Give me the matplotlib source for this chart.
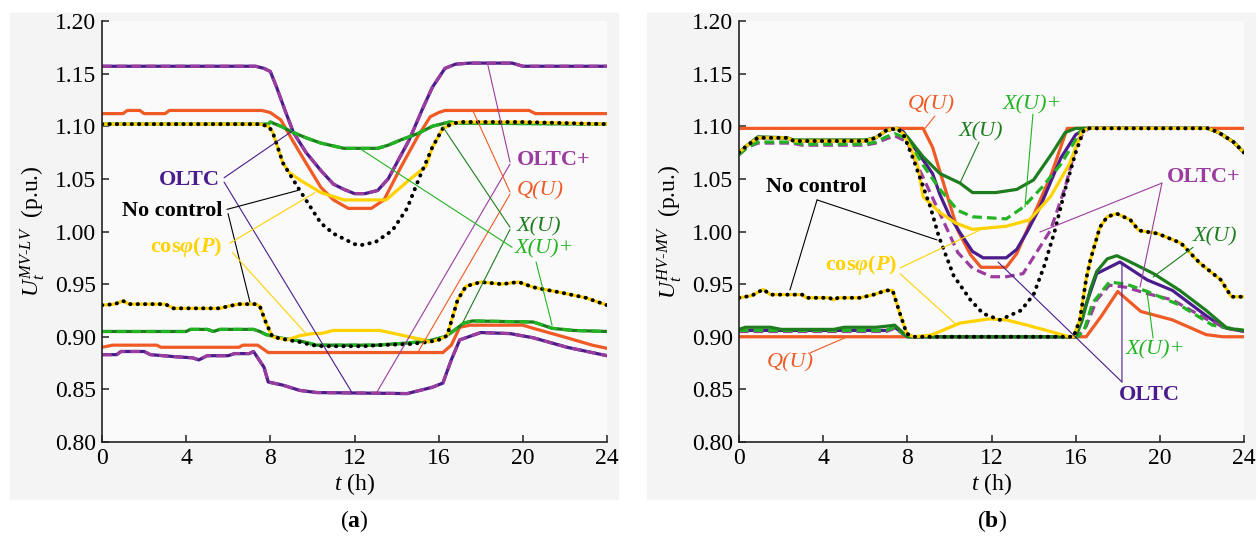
import matplotlib
matplotlib.use("Agg")
import matplotlib.pyplot as plt
from matplotlib.patches import Rectangle

plt.rcParams['font.family'] = ['Liberation Serif', 'DejaVu Serif']
plt.rcParams['mathtext.fontset'] = 'custom'
plt.rcParams['mathtext.rm'] = 'Liberation Serif'
plt.rcParams['mathtext.it'] = 'Liberation Serif:italic'
plt.rcParams['mathtext.bf'] = 'Liberation Serif:bold'
plt.rcParams['mathtext.bfit'] = 'Liberation Serif:italic:bold'

# ---------------- (a) MV-LV ----------------
a_nc_up_t = [0, 7.5, 7.9, 8.1, 8.6, 9.4, 10.4, 11.0, 12.0, 12.3, 13.0, 13.8, 14.5, 15.1, 15.7, 16.2, 16.6, 17.0, 20.0, 24]
a_nc_up_v = [1.102, 1.102, 1.100, 1.095, 1.065, 1.039, 1.008, 0.998, 0.988, 0.987, 0.990, 1.001, 1.022, 1.052,
             1.080, 1.098, 1.102, 1.104, 1.104, 1.102]
a_cos_up_t = [0, 7.5, 7.9, 8.1, 8.6, 8.9, 9.4, 10.4, 11.5, 13.5, 14.6, 15.4, 15.7, 16.2, 16.6, 17.0, 20.0, 24]
a_cos_up_v = [1.102, 1.102, 1.100, 1.095, 1.065, 1.056, 1.049, 1.037, 1.030, 1.030, 1.049, 1.062, 1.080, 1.098,
              1.102, 1.104, 1.104, 1.102]
a_oltc_up_t = [0, 7.3, 7.7, 8.0, 8.3, 8.7, 9.1, 9.7, 10.4, 11.0, 11.5, 12.0, 12.5, 13.1, 13.6, 14.6, 15.2, 15.7,
               16.3, 16.8, 17.5, 19.5, 20.0, 24]
a_oltc_up_v = [1.157, 1.157, 1.155, 1.152, 1.137, 1.115, 1.094, 1.075, 1.058, 1.045, 1.040, 1.036, 1.036, 1.039,
               1.050, 1.087, 1.115, 1.137, 1.155, 1.159, 1.160, 1.160, 1.157, 1.157]
a_q_up_t = [0, 1.0, 1.2, 1.8, 2.0, 3.0, 3.2, 7.6, 8.0, 8.5, 9.1, 9.7, 10.4, 11.0, 11.7, 12.8, 13.4, 14.2, 15.0,
            15.6, 16.0, 16.3, 20.3, 20.6, 24]
a_q_up_v = [1.112, 1.112, 1.115, 1.115, 1.112, 1.112, 1.115, 1.115, 1.113, 1.106, 1.085, 1.065, 1.042, 1.030,
            1.022, 1.022, 1.030, 1.061, 1.090, 1.109, 1.113, 1.115, 1.115, 1.112, 1.112]
a_x_up_t = [0, 7.6, 7.9, 8.0, 8.5, 9.1, 9.7, 10.4, 11.5, 13.1, 13.6, 14.2, 15.0, 15.7, 16.5, 17.0, 24]
a_x_up_v = [1.102, 1.102, 1.102, 1.104, 1.100, 1.094, 1.089, 1.084, 1.079, 1.079, 1.082, 1.087, 1.093, 1.100,
            1.104, 1.103, 1.102]

a_nc_lo_t = [0, 0.6, 1.0, 1.3, 3.0, 3.4, 5.6, 6.0, 6.5, 7.3, 7.5, 7.8, 8.1, 8.8, 9.4, 10.0, 10.5, 12.5, 13.1,
             14.6, 15.5, 16.0, 16.4, 16.9, 17.3, 18.0, 19.0, 19.8, 20.5, 21.8, 23.0, 24]
a_nc_lo_v = [0.930, 0.931, 0.934, 0.931, 0.931, 0.927, 0.927, 0.929, 0.931, 0.931, 0.929, 0.913, 0.900, 0.897,
             0.895, 0.892, 0.891, 0.891, 0.892, 0.893, 0.895, 0.897, 0.901, 0.935, 0.948, 0.952, 0.950, 0.952,
             0.947, 0.942, 0.937, 0.930]
a_cos_lo_t = [0, 0.6, 1.0, 1.3, 3.0, 3.4, 5.6, 6.0, 6.5, 7.3, 7.5, 7.8, 8.1, 8.8, 9.4, 10.0, 10.4, 11.0, 13.2,
              13.9, 14.8, 15.3, 15.5, 16.0, 16.4, 16.9, 17.3, 18.0, 19.0, 19.8, 20.5, 21.8, 23.0, 24]
a_cos_lo_v = [0.930, 0.931, 0.934, 0.931, 0.931, 0.927, 0.927, 0.929, 0.931, 0.931, 0.929, 0.913, 0.900, 0.897,
              0.901, 0.903, 0.903, 0.906, 0.906, 0.903, 0.899, 0.897, 0.895, 0.897, 0.901, 0.935, 0.948, 0.952,
              0.950, 0.952, 0.947, 0.942, 0.937, 0.930]
a_x_lo_t = [0, 4.0, 4.2, 5.0, 5.3, 5.6, 7.2, 7.5, 7.8, 8.4, 9.4, 10.2, 13.0, 14.5, 15.5, 16.3, 16.6, 17.2, 17.6,
            20.5, 21.4, 22.4, 24]
a_x_lo_v = [0.905, 0.905, 0.907, 0.907, 0.905, 0.907, 0.907, 0.905, 0.902, 0.899, 0.896, 0.892, 0.892, 0.894,
            0.896, 0.900, 0.904, 0.913, 0.915, 0.914, 0.908, 0.906, 0.905]
a_q_lo_t = [0, 0.5, 2.6, 2.8, 6.5, 6.7, 7.4, 7.9, 16.2, 16.6, 17.0, 17.5, 20.0, 20.5, 22.1, 23.3, 24]
a_q_lo_v = [0.890, 0.892, 0.892, 0.890, 0.890, 0.892, 0.892, 0.885, 0.885, 0.892, 0.909, 0.911, 0.911, 0.908,
            0.899, 0.892, 0.889]
a_oltc_lo_t = [0, 0.7, 0.9, 2.0, 2.3, 3.5, 4.3, 4.6, 5.0, 6.0, 6.3, 7.0, 7.2, 7.7, 7.9, 8.6, 9.4, 10.2, 14.5,
               15.7, 16.2, 16.6, 17.0, 18.0, 19.4, 20.5, 22.1, 24]
a_oltc_lo_v = [0.883, 0.883, 0.886, 0.886, 0.883, 0.881, 0.880, 0.878, 0.882, 0.882, 0.884, 0.884, 0.886, 0.871,
               0.857, 0.854, 0.849, 0.847, 0.846, 0.852, 0.856, 0.878, 0.897, 0.904, 0.903, 0.899, 0.890, 0.882]

# ---------------- (b) HV-MV ----------------
b_nc_up_t = [0, 0.4, 0.9, 2.3, 2.6, 6.0, 6.5, 7.0, 7.5, 7.8, 8.3, 9.1, 9.5, 10.2, 11.0, 11.6, 12.4, 13.4, 14.0,
             14.5, 15.0, 15.5, 16.0, 16.4, 16.6, 22.3, 22.8, 23.5, 24]
b_nc_up_v = [1.075, 1.082, 1.089, 1.089, 1.086, 1.086, 1.089, 1.096, 1.098, 1.093, 1.068, 1.023, 0.995, 0.958,
             0.935, 0.922, 0.916, 0.925, 0.940, 0.967, 1.000, 1.040, 1.075, 1.097, 1.098, 1.098, 1.094, 1.085, 1.075]
b_cos_up_t = [0, 0.4, 0.9, 2.3, 2.6, 6.0, 6.5, 7.0, 7.5, 7.8, 8.2, 8.5, 8.75, 9.55, 10.3, 11.1, 12.7, 13.8, 14.8,
              15.7, 16.3, 16.6, 22.3, 22.8, 23.5, 24]
b_cos_up_v = [1.075, 1.082, 1.089, 1.089, 1.086, 1.086, 1.089, 1.096, 1.098, 1.093, 1.078, 1.062, 1.033, 1.018,
              1.008, 1.002, 1.005, 1.011, 1.033, 1.064, 1.095, 1.098, 1.098, 1.094, 1.085, 1.075]
b_oltc_up_t = [0, 0.4, 0.9, 2.3, 2.6, 6.0, 6.5, 7.0, 7.5, 7.8, 8.5, 9.2, 9.55, 10.0, 10.5, 11.1, 11.6, 12.7, 13.2,
               13.7, 14.3, 15.3, 16.0, 16.5, 22.3, 22.8, 23.5, 24]
b_oltc_up_v = [1.075, 1.082, 1.089, 1.089, 1.086, 1.086, 1.089, 1.096, 1.098, 1.095, 1.075, 1.055, 1.035, 1.015,
               0.999, 0.981, 0.975, 0.975, 0.983, 1.000, 1.023, 1.070, 1.092, 1.098, 1.098, 1.094, 1.085, 1.075]
b_oltcp_up_t = [0, 0.4, 0.9, 2.5, 3.0, 6.0, 6.5, 7.0, 7.4, 8.0, 8.5, 9.55, 10.4, 11.1, 12.0, 12.7, 13.5, 14.8,
                15.5, 16.1, 16.6, 22.3, 22.8, 23.5, 24]
b_oltcp_up_v = [1.073, 1.080, 1.084, 1.084, 1.082, 1.082, 1.084, 1.088, 1.091, 1.085, 1.062, 1.017, 0.980, 0.965,
                0.957, 0.957, 0.960, 1.001, 1.042, 1.087, 1.098, 1.098, 1.094, 1.085, 1.075]
b_q_up_t = [0, 8.75, 9.2, 10.4, 11.0, 11.5, 12.7, 13.2, 14.8, 15.6, 24]
b_q_up_v = [1.098, 1.098, 1.080, 1.001, 0.978, 0.966, 0.966, 0.979, 1.052, 1.098, 1.098]
b_x_up_t = [0, 0.4, 0.9, 2.3, 2.6, 6.0, 6.5, 7.0, 7.5, 8.0, 8.75, 9.55, 10.5, 11.1, 12.2, 13.2, 14.0, 14.9, 15.5,
            16.0, 22.3, 22.8, 23.5, 24]
b_x_up_v = [1.075, 1.082, 1.090, 1.089, 1.087, 1.087, 1.089, 1.096, 1.098, 1.090, 1.071, 1.055, 1.046, 1.037,
            1.037, 1.040, 1.049, 1.075, 1.094, 1.098, 1.098, 1.094, 1.085, 1.075]
b_xp_up_t = [0, 0.4, 0.9, 2.5, 3.0, 6.0, 6.5, 7.0, 7.4, 8.0, 8.75, 9.55, 10.4, 11.1, 12.7, 13.5, 14.4, 15.3,
             16.0, 16.3, 22.3, 22.8, 23.5, 24]
b_xp_up_v = [1.073, 1.080, 1.085, 1.085, 1.083, 1.083, 1.085, 1.090, 1.093, 1.088, 1.063, 1.040, 1.020, 1.014,
             1.012, 1.023, 1.042, 1.064, 1.087, 1.098, 1.098, 1.094, 1.085, 1.075]

b_nc_lo_t = [0, 0.6, 1.15, 1.5, 3.0, 3.2, 4.3, 4.5, 4.7, 5.75, 6.4, 7.0, 7.3, 7.65, 7.97, 8.3, 15.9, 16.2, 16.5,
             16.7, 17.15, 17.5, 17.95, 18.6, 19.0, 19.9, 21.0, 21.9, 22.9, 23.4, 24]
b_nc_lo_v = [0.937, 0.939, 0.945, 0.940, 0.940, 0.937, 0.937, 0.935, 0.937, 0.937, 0.940, 0.944, 0.944, 0.922,
             0.903, 0.900, 0.900, 0.916, 0.955, 0.973, 1.004, 1.014, 1.017, 1.011, 1.001, 0.998, 0.989, 0.970,
             0.954, 0.938, 0.938]
b_cos_lo_t = [0, 0.6, 1.15, 1.5, 3.0, 3.2, 4.3, 4.5, 4.7, 5.75, 6.4, 7.0, 7.3, 7.65, 7.97, 8.3, 9.1, 9.55, 10.5,
              11.9, 12.7, 13.7, 14.8, 15.7, 15.9, 16.2, 16.5, 16.7, 17.15, 17.5, 17.95, 18.6, 19.0, 19.9, 21.0,
              21.9, 22.9, 23.4, 24]
b_cos_lo_v = [0.937, 0.939, 0.945, 0.940, 0.940, 0.937, 0.937, 0.935, 0.937, 0.937, 0.940, 0.944, 0.944, 0.922,
              0.903, 0.900, 0.9015, 0.905, 0.913, 0.917, 0.916, 0.911, 0.905, 0.900, 0.900, 0.916, 0.955, 0.973,
              1.004, 1.014, 1.017, 1.011, 1.001, 0.998, 0.989, 0.970, 0.954, 0.938, 0.938]
b_x_lo_t = [0, 0.3, 1.5, 2.0, 4.5, 5.0, 6.5, 7.0, 7.4, 8.0, 16.0, 16.3, 16.7, 17.0, 17.5, 17.95, 18.4, 19.7, 20.95,
            22.2, 23.2, 24]
b_x_lo_v = [0.907, 0.909, 0.909, 0.907, 0.907, 0.909, 0.909, 0.910, 0.911, 0.900, 0.900, 0.915, 0.945, 0.962,
            0.974, 0.977, 0.973, 0.960, 0.944, 0.925, 0.908, 0.906]
b_oltc_lo_t = [0, 7.0, 7.4, 8.0, 16.0, 16.4, 17.0, 18.1, 19.4, 20.6, 22.2, 23.0, 24]
b_oltc_lo_v = [0.906, 0.906, 0.909, 0.900, 0.900, 0.925, 0.960, 0.971, 0.954, 0.944, 0.920, 0.909, 0.905]
b_xp_lo_t = [0, 7.0, 7.4, 8.0, 16.1, 16.4, 16.8, 17.6, 18.4, 19.4, 20.95, 22.5, 24]
b_xp_lo_v = [0.906, 0.906, 0.909, 0.900, 0.900, 0.906, 0.932, 0.952, 0.950, 0.943, 0.930, 0.911, 0.906]
b_oltcp_lo_t = [0, 7.0, 7.4, 8.0, 16.1, 16.5, 17.0, 17.6, 18.4, 19.4, 20.6, 22.2, 23.2, 24]
b_oltcp_lo_v = [0.905, 0.905, 0.908, 0.900, 0.900, 0.910, 0.935, 0.949, 0.947, 0.941, 0.935, 0.917, 0.908, 0.905]
b_q_lo_t = [0, 16.5, 17.2, 18.0, 19.1, 20.6, 22.2, 23.0, 24]
b_q_lo_v = [0.900, 0.900, 0.919, 0.943, 0.924, 0.916, 0.902, 0.900, 0.900]

x_ticks = [0, 4, 8, 12, 16, 20, 24]
y_ticks = [0.80, 0.85, 0.90, 0.95, 1.00, 1.05, 1.10, 1.15, 1.20]

C_OLTC = '#4a1c8c'
C_OLTCP = '#9a3d9e'
C_Q = '#f05a24'
C_X = '#1e7d1e'
C_XP = '#22b422'
C_COS = '#ffd200'

SOLID = dict(lw=2.3, solid_capstyle='round')
DASH = dict(lw=2.3, ls=(0, (3, 1.6)))
DOT = dict(lw=2.8, ls=(0, (0.1, 1.8)), dash_capstyle='round', color='black')

COS_LABEL = r'cos$\mathbfit{\varphi}$($\mathbfit{P}$)'
HY = '\u2010'

fig = plt.figure(figsize=(12.58, 5.41), dpi=100)
fig.patches.append(Rectangle((10 / 1258, 42 / 541), 608 / 1258, 486 / 541, transform=fig.transFigure,
                             color='#f4f4f4', zorder=-5))
fig.patches.append(Rectangle((647 / 1258, 42 / 541), 608 / 1258, 486 / 541, transform=fig.transFigure,
                             color='#f4f4f4', zorder=-5))

ax_a = fig.add_axes([102 / 1258, 99 / 541, 505 / 1258, 421 / 541])
ax_b = fig.add_axes([739 / 1258, 99 / 541, 505 / 1258, 421 / 541])


def draw(ax, curves):
    for t, v, color, style in curves:
        ax.plot(t, v, color=color, **style)


draw(ax_a, [
    (a_q_up_t, a_q_up_v, C_Q, SOLID), (a_q_lo_t, a_q_lo_v, C_Q, SOLID),
    (a_oltc_up_t, a_oltc_up_v, C_OLTC, SOLID), (a_oltc_lo_t, a_oltc_lo_v, C_OLTC, SOLID),
    (a_oltc_up_t, a_oltc_up_v, C_OLTCP, DASH), (a_oltc_lo_t, a_oltc_lo_v, C_OLTCP, DASH),
    (a_x_up_t, a_x_up_v, C_X, SOLID), (a_x_lo_t, a_x_lo_v, C_X, SOLID),
    (a_x_up_t, a_x_up_v, C_XP, DASH), (a_x_lo_t, a_x_lo_v, C_XP, DASH),
    (a_cos_up_t, a_cos_up_v, C_COS, SOLID), (a_cos_lo_t, a_cos_lo_v, C_COS, SOLID),
])
ax_a.plot(a_nc_up_t, a_nc_up_v, **DOT)
ax_a.plot(a_nc_lo_t, a_nc_lo_v, **DOT)

draw(ax_b, [
    (b_q_up_t, b_q_up_v, C_Q, SOLID), (b_q_lo_t, b_q_lo_v, C_Q, SOLID),
    (b_oltc_up_t, b_oltc_up_v, C_OLTC, SOLID), (b_oltc_lo_t, b_oltc_lo_v, C_OLTC, SOLID),
    (b_oltcp_up_t, b_oltcp_up_v, C_OLTCP, DASH), (b_oltcp_lo_t, b_oltcp_lo_v, C_OLTCP, DASH),
    (b_xp_up_t, b_xp_up_v, C_XP, DASH), (b_xp_lo_t, b_xp_lo_v, C_XP, DASH),
    (b_x_up_t, b_x_up_v, C_X, SOLID), (b_x_lo_t, b_x_lo_v, C_X, SOLID),
    (b_cos_up_t, b_cos_up_v, C_COS, SOLID), (b_cos_lo_t, b_cos_lo_v, C_COS, SOLID),
])
ax_b.plot(b_nc_up_t, b_nc_up_v, **DOT)
ax_b.plot(b_nc_lo_t, b_nc_lo_v, **DOT)

# labels with leader lines: text, x, y, ha, colour, weight/style, [(start, target), ...]
notes_a = [
    ('OLTC', 5.6, 1.049, 'right', C_OLTC, 'bold', [((5.80, 1.051), (9.08, 1.096)), ((5.80, 1.047), (11.88, 0.847))]),
    ('No control', 5.7, 1.0195, 'right', 'black', 'bold', [((5.94, 1.021), (9.31, 1.039)), ((5.99, 1.017), (7.03, 0.933))]),
    (COS_LABEL, 5.7, 0.985, 'right', C_COS, 'bold', [((6.08, 0.989), (10.12, 1.037)), ((6.2, 0.980), (9.74, 0.902))]),
    ('OLTC+', 19.72, 1.068, 'left', C_OLTCP, 'bold', [((19.39, 1.066), (18.34, 1.158)), ((19.39, 1.064), (13.07, 0.8475))]),
    ('Q(U)', 19.72, 1.039, 'left', C_Q, 'italic', [((19.39, 1.0375), (17.63, 1.1145)), ((19.39, 1.0355), (15.02, 0.8855))]),
    ('X(U)', 19.72, 1.004, 'left', C_X, 'italic', [((19.39, 1.004), (16.2, 1.0993)), ((19.39, 1.002), (17.16, 0.914))]),
    ('X(U)+', 19.62, 0.9834, 'left', C_XP, 'italic', [((19.49, 0.985), (12.36, 1.0774)), ((20.63, 0.971), (21.39, 0.911))]),
]
notes_b = [
    ('No control', 3.66, 1.042, 'center', 'black', 'bold', [((3.71, 1.03), (9.41, 0.992)), ((3.71, 1.03), (2.42, 0.9444))]),
    (COS_LABEL, 7.51, 0.968, 'right', C_COS, 'bold', [((7.65, 0.9653), (11.45, 1.0014)), ((7.65, 0.960), (10.36, 0.911))]),
    ('Q(U)', 9.12, 1.12, 'center', C_Q, 'italic', [((9.31, 1.1097), (8.84, 1.098))]),
    ('X(U)', 11.5, 1.0945, 'center', C_X, 'italic', [((11.41, 1.085), (10.5, 1.046))]),
    ('X(U)+', 13.97, 1.12, 'center', C_XP, 'italic', [((13.97, 1.1116), (13.59, 1.0233))]),
    ('Q(U)', 2.42, 0.875, 'center', C_Q, 'italic', [((3.37, 0.8846), (5.13, 0.8998))]),
    ('OLTC+', 20.34, 1.0518, 'left', C_OLTCP, 'bold', [((20.1, 1.046), (14.3, 0.9995)), ((20.1, 1.046), (19.06, 0.9473))]),
    ('X(U)', 21.58, 0.9948, 'left', C_X, 'italic', [((21.58, 0.985), (19.68, 0.9568))]),
    ('X(U)+', 19.77, 0.8874, 'center', C_XP, 'italic', [((19.68, 0.8988), (19.39, 0.9425))]),
    ('OLTC', 19.49, 0.8447, 'center', C_OLTC, 'bold', [((18.2, 0.857), (18.2, 0.971)), ((18.2, 0.857), (12.31, 0.971))]),
]

for ax, notes in [(ax_a, notes_a), (ax_b, notes_b)]:
    for text, x, y, ha, color, kind, leaders in notes:
        kw = dict(fontweight='bold') if kind == 'bold' else dict(fontstyle='italic')
        ax.text(x, y, text, ha=ha, va='center', color=color, fontsize=16, zorder=6, **kw)
        for start, target in leaders:
            ax.annotate('', xy=target, xytext=start,
                        arrowprops=dict(arrowstyle='-', color=color, lw=0.8, shrinkA=0, shrinkB=0), zorder=5)

for ax, lab, panel in [(ax_a, '$U_t^{MV' + HY + 'LV}$  (p.u.)', r'($\mathbf{a}$)'),
                       (ax_b, '$U_t^{HV' + HY + 'MV}$  (p.u.)', r'($\mathbf{b}$)')]:
    ax.set_facecolor('#fafafa')
    ax.set_xlim(0, 24)
    ax.set_ylim(0.80, 1.20)
    ax.set_xticks(x_ticks)
    ax.set_yticks(y_ticks)
    ax.set_yticklabels([f'{v:.2f}' for v in y_ticks])
    ax.tick_params(direction='in', length=5, width=1.1, labelsize=17, pad=4, color='#222222')
    for lbl in ax.get_xticklabels() + ax.get_yticklabels():
        lbl.set_fontfamily(['Liberation Serif', 'DejaVu Serif'])
    for side in ['top', 'right']:
        ax.spines[side].set_visible(False)
    for side in ['left', 'bottom']:
        ax.spines[side].set_linewidth(1.2)
        ax.spines[side].set_color('#222222')
    ax.set_ylabel(lab, fontsize=17, labelpad=6)
    ax.set_xlabel(r'$t$ (h)', fontsize=17, labelpad=2)
    ax.text(0.5, -0.158, panel, transform=ax.transAxes, ha='center', va='top', fontsize=17)

fig.savefig('out.png', dpi=100)
